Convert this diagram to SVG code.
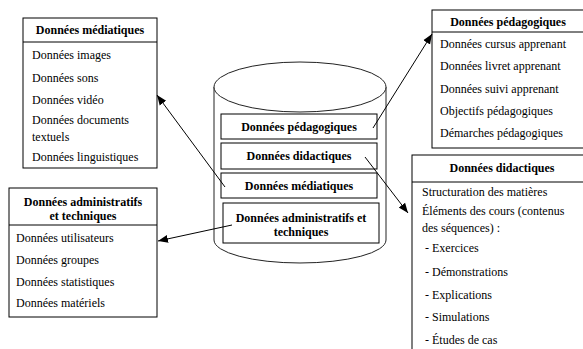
<svg xmlns="http://www.w3.org/2000/svg" width="583" height="349" viewBox="0 0 583 349">
<defs>
<style>
text{font-family:"Liberation Serif","Times New Roman",serif;font-size:12px;fill:#000}
.b{font-weight:bold}
.m{text-anchor:middle}
.box{fill:#fff;stroke:#000;stroke-width:1}
.ln{stroke:#000;stroke-width:1;fill:none}
.cyl{fill:#fff;stroke:#222;stroke-width:1}
</style>
<marker id="ah" viewBox="0 0 10 10" refX="10" refY="5" markerWidth="10" markerHeight="10" markerUnits="userSpaceOnUse" orient="auto">
<path d="M0,1 L10,5 L0,9 Z" fill="#000"/>
</marker>
</defs>
<rect width="583" height="349" fill="#fff"/>

<g id="base">
<path class="cyl" d="M214,87 L214,240 A86,23 0 0 0 386,240 L386,87"/>
<ellipse class="cyl" cx="300" cy="87" rx="86" ry="25"/>
</g>

<g id="cyl-pedagogiques">
<rect class="box" x="221" y="114" width="156" height="25"/>
<text class="b m" x="299" y="131">Données pédagogiques</text>
</g>
<g id="cyl-didactiques">
<rect class="box" x="221" y="143" width="156" height="26"/>
<text class="b m" x="299" y="160">Données didactiques</text>
</g>
<g id="cyl-mediatiques">
<rect class="box" x="221" y="173" width="156" height="25"/>
<text class="b m" x="299" y="190">Données médiatiques</text>
</g>
<g id="cyl-admin">
<rect class="box" x="223" y="203" width="156" height="40"/>
<text class="b m" x="301" y="222">Données administratifs et</text>
<text class="b m" x="301" y="236">techniques</text>
</g>

<g id="mediatiques">
<rect class="box" x="23" y="18" width="134" height="150"/>
<line class="ln" x1="23" y1="42" x2="157" y2="42"/>
<text class="b m" x="90" y="34">Données médiatiques</text>
<text x="32" y="59">Données images</text>
<text x="32" y="82">Données sons</text>
<text x="32" y="104">Données vidéo</text>
<text x="32" y="124">Données documents</text>
<text x="32" y="141">textuels</text>
<text x="32" y="161">Données linguistiques</text>
</g>

<g id="pedagogiques">
<rect class="box" x="432" y="10" width="160" height="138"/>
<line class="ln" x1="432" y1="32" x2="592" y2="32"/>
<text class="b m" x="508" y="26">Données pédagogiques</text>
<text x="440" y="48">Données cursus apprenant</text>
<text x="440" y="70">Données livret apprenant</text>
<text x="440" y="93">Données suivi apprenant</text>
<text x="440" y="115">Objectifs pédagogiques</text>
<text x="440" y="137">Démarches pédagogiques</text>
</g>

<g id="didactiques">
<rect class="box" x="412" y="155" width="182" height="210"/>
<line class="ln" x1="412" y1="182" x2="594" y2="182"/>
<text class="b m" x="502" y="172">Données didactiques</text>
<text x="422" y="196">Structuration des matières</text>
<text x="422" y="215">Éléments des cours (contenus</text>
<text x="422" y="232">des séquences) :</text>
<text x="425" y="252">- Exercices</text>
<text x="425" y="276">- Démonstrations</text>
<text x="425" y="299">- Explications</text>
<text x="425" y="321">- Simulations</text>
<text x="425" y="344">- Études de cas</text>
</g>

<g id="admin">
<rect class="box" x="9" y="188" width="148" height="129"/>
<line class="ln" x1="9" y1="225" x2="157" y2="225"/>
<text class="b m" x="83" y="206">Données administratifs</text>
<text class="b m" x="83" y="220">et techniques</text>
<text x="16" y="242">Données utilisateurs</text>
<text x="16" y="264">Données groupes</text>
<text x="16" y="286">Données statistiques</text>
<text x="16" y="307">Données matériels</text>
</g>

<g id="connectors">
<line class="ln" x1="225" y1="187" x2="157" y2="95" marker-end="url(#ah)"/>
<line class="ln" x1="373" y1="128" x2="432" y2="34" marker-end="url(#ah)"/>
<line class="ln" x1="365" y1="157" x2="408" y2="213" marker-end="url(#ah)"/>
<line class="ln" x1="232" y1="225" x2="158" y2="241" marker-end="url(#ah)"/>
</g>
</svg>
